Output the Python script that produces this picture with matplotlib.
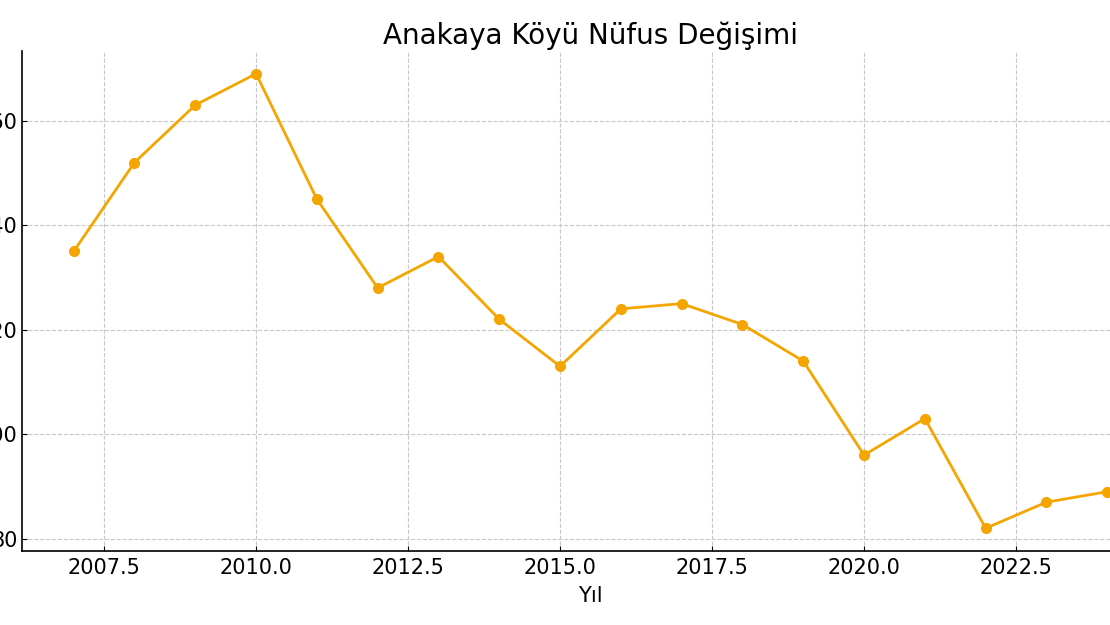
import matplotlib
matplotlib.use("Agg")
import matplotlib.pyplot as plt

years = list(range(2007, 2025))
population = [135, 152, 163, 169, 145, 128, 134, 122, 113, 124, 125, 121, 114, 96, 103, 82, 87, 89]

fig = plt.figure(figsize=(11.1, 6.25), dpi=100)
# axes run past the right edge, the source image is cropped there
ax = fig.add_axes([0.0198, 0.1184, 1.0243, 0.8])

ax.plot(years, population, color='#F5A500', marker='o', markersize=7, linewidth=2)

ax.set_title('Anakaya Köyü Nüfus Değişimi', fontsize=20, pad=5)
ax.set_xlabel('Yıl', fontsize=15, labelpad=6)
ax.set_yticks([80, 100, 120, 140, 160])
ax.tick_params(labelsize=15, direction='in')
ax.tick_params(axis='x', pad=5)
ax.tick_params(axis='y', pad=3)
ax.grid(True, linestyle='--', color='#c8c8c8', linewidth=0.8)
ax.spines['top'].set_visible(False)
ax.spines['right'].set_visible(False)
ax.spines['left'].set_linewidth(1.2)
ax.spines['bottom'].set_linewidth(1.2)

fig.savefig('out.png', dpi=100)
plt.close(fig)
